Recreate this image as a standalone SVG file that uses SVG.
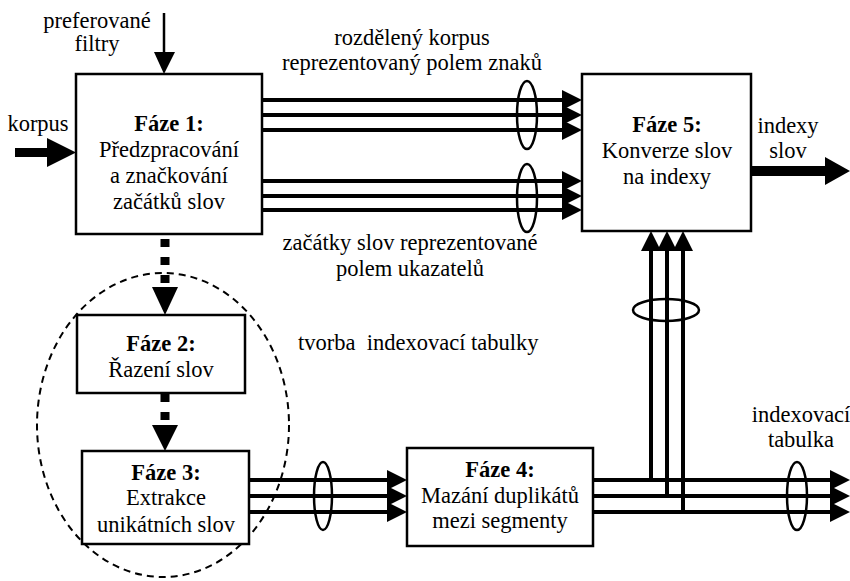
<svg xmlns="http://www.w3.org/2000/svg" width="850" height="581" viewBox="0 0 850 581">
<defs>
<style>
text{font-family:"Liberation Serif","Times New Roman",serif;font-size:22.5px;fill:#000;text-anchor:middle}
.b{font-weight:bold}
.box{fill:#fff;stroke:#000;stroke-width:2.5}
.bus{stroke:#000;stroke-width:4;fill:none}
.ell{fill:none;stroke:#000;stroke-width:2.5}
.dash{stroke:#000;stroke-width:9;stroke-dasharray:8 10;fill:none}
</style>
<marker id="arr" markerUnits="userSpaceOnUse" viewBox="0 0 20 20" markerWidth="20" markerHeight="20" refX="10" refY="10" orient="auto">
<path d="M0,0 L20,10 L0,20 z" fill="#000"/>
</marker>
</defs>
<rect width="850" height="581" fill="#fff"/>

<g id="connectors">
<!-- filters -->
<line x1="164" y1="13" x2="164" y2="55" stroke="#000" stroke-width="2.5"/>
<polygon points="154,52 164,74 175,52" fill="#000"/>
<!-- korpus -->
<rect x="15" y="148" width="36" height="9" fill="#000"/>
<polygon points="47,138 76,152.5 47,167" fill="#000"/>
<!-- output indexy -->
<rect x="751" y="166" width="78" height="10" fill="#000"/>
<polygon points="825,157 850,171 825,185" fill="#000"/>
<!-- Faze1 -> Faze5 -->
<path class="bus" d="M262,100 H572" marker-end="url(#arr)"/>
<path class="bus" d="M262,115 H572" marker-end="url(#arr)"/>
<path class="bus" d="M262,130 H572" marker-end="url(#arr)"/>
<path class="bus" d="M262,181 H572" marker-end="url(#arr)"/>
<path class="bus" d="M262,196 H572" marker-end="url(#arr)"/>
<path class="bus" d="M262,210 H572" marker-end="url(#arr)"/>
<ellipse class="ell" cx="527" cy="115" rx="10" ry="34"/>
<ellipse class="ell" cx="527" cy="198" rx="10" ry="34"/>
<!-- dashed -->
<line class="dash" x1="165" y1="239" x2="165" y2="290"/>
<polygon points="152,287 165,315 178,287" fill="#000"/>
<line class="dash" x1="165" y1="394" x2="165" y2="428"/>
<polygon points="152,425 165,451 178,425" fill="#000"/>
<ellipse cx="163" cy="425" rx="126" ry="152" fill="none" stroke="#000" stroke-width="2" stroke-dasharray="7 5"/>
<!-- Faze3 -> Faze4 -->
<path class="bus" d="M249,480 H397" marker-end="url(#arr)"/>
<path class="bus" d="M249,496 H397" marker-end="url(#arr)"/>
<path class="bus" d="M249,512 H397" marker-end="url(#arr)"/>
<ellipse class="ell" cx="323" cy="496" rx="9" ry="34"/>
<!-- Faze4 out -->
<path class="bus" d="M593,480 H840" marker-end="url(#arr)"/>
<path class="bus" d="M593,496 H840" marker-end="url(#arr)"/>
<path class="bus" d="M593,512 H840" marker-end="url(#arr)"/>
<ellipse class="ell" cx="797" cy="496" rx="10" ry="34"/>
<!-- up to Faze5 -->
<path class="bus" d="M651,482 V241" marker-end="url(#arr)"/>
<path class="bus" d="M667,498 V241" marker-end="url(#arr)"/>
<path class="bus" d="M683,514 V241" marker-end="url(#arr)"/>
<ellipse class="ell" cx="666" cy="310" rx="33" ry="11"/>
</g>

<g id="faze1">
<rect class="box" x="76" y="74" width="186" height="160"/>
<text class="b" x="169" y="131">Fáze 1:</text>
<text x="169" y="157">Předzpracování</text>
<text x="169" y="183">a značkování</text>
<text x="169" y="209">začátků slov</text>
</g>
<g id="faze2">
<rect class="box" x="77" y="315" width="168" height="78"/>
<text class="b" x="161" y="351">Fáze 2:</text>
<text x="161" y="377">Řazení slov</text>
</g>
<g id="faze3">
<rect class="box" x="82" y="451" width="167" height="93"/>
<text class="b" x="166" y="480">Fáze 3:</text>
<text x="166" y="505">Extrakce</text>
<text x="166" y="532">unikátních slov</text>
</g>
<g id="faze4">
<rect class="box" x="407" y="448" width="186" height="98"/>
<text class="b" x="500" y="477">Fáze 4:</text>
<text x="500" y="503">Mazání duplikátů</text>
<text x="500" y="528">mezi segmenty</text>
</g>
<g id="faze5">
<rect class="box" x="582" y="74" width="169" height="157"/>
<text class="b" x="667" y="132">Fáze 5:</text>
<text x="667" y="158">Konverze slov</text>
<text x="667" y="184">na indexy</text>
</g>

<g id="labels">
<text x="97" y="28">preferované</text>
<text x="97" y="51">filtry</text>
<text x="38" y="131">korpus</text>
<text x="412" y="45">rozdělený korpus</text>
<text x="412" y="70">reprezentovaný polem znaků</text>
<text x="410" y="250">začátky slov reprezentované</text>
<text x="410" y="276">polem ukazatelů</text>
<text x="788" y="133">indexy</text>
<text x="788" y="158">slov</text>
<text x="298" y="350" style="text-anchor:start" xml:space="preserve">tvorba  indexovací tabulky</text>
<text x="801" y="422">indexovací</text>
<text x="801" y="447">tabulka</text>
</g>
</svg>
